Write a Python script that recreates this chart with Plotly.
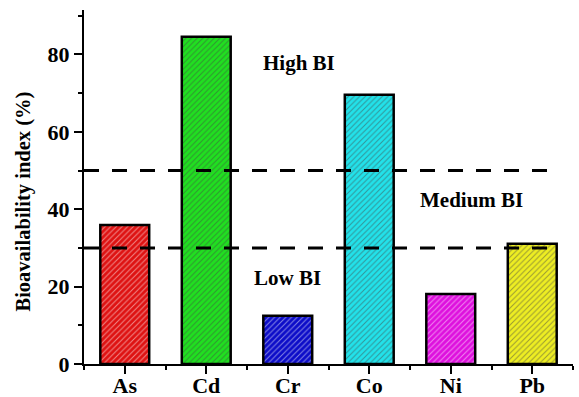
import plotly.graph_objects as go

# Bioavailability index of heavy metals
metals = ["As", "Cd", "Cr", "Co", "Ni", "Pb"]
bi_values = [35.9, 84.6, 12.5, 69.6, 18.1, 31.1]
bar_colors = ["#de1212", "#20e020", "#0c0cc8", "#22e2ea", "#de10de", "#eeee22"]
hatch_colors = ["#bc0e0e", "#18be18", "#0a0aa8", "#1cc0c8", "#bc0cbc", "#caca18"]

# Class thresholds and labels
thresholds = [50, 30]
zone_labels = ["High BI", "Medium BI", "Low BI"]
zone_x = [2.14, 4.26, 2.0]
zone_y = [77.7, 42.3, 22.2]

y_ticks = [0, 20, 40, 60, 80]

FONT = "Liberation Serif"
positions = list(range(len(metals)))

fig = go.Figure()
fig.add_trace(go.Bar(
    x=positions,
    y=bi_values,
    width=0.6,
    marker=dict(
        color=bar_colors,
        line=dict(color="black", width=2.5),
        pattern=dict(shape="/", fgcolor=hatch_colors,
                     size=4, solidity=0.25, fillmode="overlay"),
    ),
    showlegend=False,
))

for t in thresholds:
    fig.add_shape(type="line", xref="x", yref="y", x0=-0.5, x1=5.3, y0=t, y1=t,
                  line=dict(color="black", width=3, dash="15px,13px"), layer="above")

for txt, xx, yy in zip(zone_labels, zone_x, zone_y):
    fig.add_annotation(x=xx, y=yy, xref="x", yref="y", text=f"<b>{txt}</b>",
                       showarrow=False, font=dict(family=FONT, size=21, color="black"))

# Y-axis title
fig.add_annotation(x=-0.1227, y=0.459, xref="paper", yref="paper",
                   text="<b>Bioavailability index (%)</b>", textangle=-90,
                   showarrow=False, xanchor="center", yanchor="middle",
                   font=dict(family=FONT, size=20.5, color="black"))

fig.update_layout(
    width=579, height=397,
    margin=dict(l=84, r=6, t=10, b=33),
    plot_bgcolor="white", paper_bgcolor="white",
    font=dict(family=FONT, size=21, color="black"),
)

fig.update_xaxes(
    range=[-0.5, 5.5], automargin=False,
    tickmode="array", tickvals=positions, ticktext=[f"<b>{m}</b>" for m in metals],
    ticks="outside", ticklen=8, tickwidth=2, tickcolor="black",
    minor=dict(ticks="outside", ticklen=4, tickwidth=2, tickcolor="black",
               tickmode="linear", tick0=0.5, dtick=1),
    showline=True, linecolor="black", linewidth=2,
    showgrid=False, zeroline=False,
    tickfont=dict(family=FONT, size=22),
    ticklabelstandoff=-7,
)

fig.update_yaxes(
    range=[0, 91.5], automargin=False,
    tickmode="array", tickvals=y_ticks, ticktext=[f"<b>{v}</b>" for v in y_ticks],
    ticks="outside", ticklen=8, tickwidth=2, tickcolor="black",
    minor=dict(ticks="outside", ticklen=4, tickwidth=2, tickcolor="black",
               tickmode="linear", tick0=10, dtick=20),
    showline=True, linecolor="black", linewidth=2,
    showgrid=False, zeroline=False,
    tickfont=dict(family=FONT, size=22),
)

fig.write_html("out.html")
